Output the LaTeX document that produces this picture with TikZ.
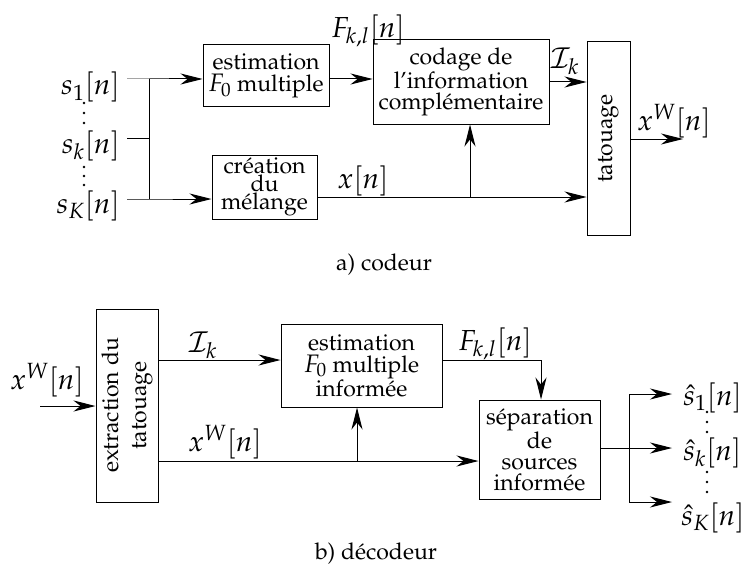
\documentclass[tikz,border=0pt]{standalone}
\usepackage[T1]{fontenc}
\usepackage{mathpazo}
\usetikzlibrary{arrows.meta}
\newcommand{\mlab}[1]{\scalebox{1.26}{$#1$}}
\newcommand{\mtxt}[1]{\scalebox{1.1}{$#1$}}
\tikzset{
  box/.style={draw, line width=1pt, inner sep=0pt, align=center},
  arr/.style={-{Stealth[length=22pt,width=11pt,inset=7pt]}, line width=1pt},
  ln/.style={line width=1pt},
  lab/.style={inner sep=0pt},
  captext/.style={inner sep=0pt},
  dot/.style={fill=black},
}
\begin{document}
\begin{tikzpicture}[x=1pt,y=-1pt, every node/.style={font=\fontsize{23}{22}\selectfont}]
\useasboundingbox (0,0) rectangle (743,575);
% ---------- a) codeur ----------
\node[box, minimum width=126pt, minimum height=62pt] (est) at (266,76) {estimation\\\mtxt{F_0} multiple};
\node[box, minimum width=105pt, minimum height=64pt, font=\fontsize{23}{14}\selectfont] (mel) at (264.5,187) {cr\'eation\\du\\m\'elange};
\node[box, minimum width=176pt, minimum height=84pt, font=\fontsize{23}{21}\selectfont] (cod) at (461,82) {codage de\\l'information\\compl\'ementaire};
\node[box, minimum width=43pt, minimum height=193pt] (tat) at (608.5,138.5) {};
\node[rotate=90, inner sep=0pt] (tatt) at (tat.center) {tatouage};

\node[lab, anchor=base east] (s1) at (120,95) {\mlab{s_1[n]}};
\node[lab, anchor=base east] (sk) at (120,153) {\mlab{s_k[n]}};
\node[lab, anchor=base east] (sK) at (120,213) {\mlab{s_K[n]}};
\fill[dot] (84,103) circle (1.3pt) (84,113) circle (1.3pt) (84,123) circle (1.3pt);
\fill[dot] (84,167) circle (1.3pt) (84,176) circle (1.3pt) (84,185) circle (1.3pt);

\coordinate (i1) at (127,79);
\coordinate (ik) at (127,138);
\coordinate (iK) at (127,199);
\coordinate (b1) at (149,79);
\coordinate (bK) at (149,199);
\draw[ln] (b1) -- (bK);
\draw[arr] (i1) -- (b1) -- (b1 -| est.west);
\draw[ln] (ik) -- (ik -| b1);
\draw[arr] (iK) -- (bK) -- (bK -| mel.west);
\draw[arr] (b1 -| est.east) -- (b1 -| cod.west);
\draw[arr] (cod.east) -- (cod.east -| tat.west);
\coordinate (xrow) at (0,197);
\draw[arr] (mel.east |- xrow) -- (tat.west |- xrow);
\coordinate (br) at (470,197);
\draw[arr] (br) -- (br |- cod.south);
\coordinate (xout) at (683,139);
\draw[arr] (tat.east |- xout) -- (xout);

\node[lab] (Fkl) at (368,31) {\mlab{F_{k,l}[n]}};
\node[lab] (Ik) at (565,61) {\mlab{\mathcal{I}_k}};
\node[lab] (xn) at (363,181) {\mlab{x[n]}};
\node[lab] (xW) at (674,121) {\mlab{x^W[n]}};
\node[captext] (capa) at (384,265) {a)~codeur};

% ---------- b) decodeur ----------
\node[box, minimum width=62pt, minimum height=193pt] (ext) at (127,405.5) {};
\node[rotate=90, align=center, inner sep=0pt, font=\fontsize{23}{28}\selectfont] (extt) at (ext.center) {extraction du\\tatouage};
\node[box, minimum width=161pt, minimum height=83pt] (est2) at (361.5,365.5) {estimation\\\mtxt{F_0} multiple\\inform\'ee};
\node[box, minimum width=121pt, minimum height=99pt, font=\fontsize{23}{21}\selectfont] (sep) at (539.5,449.5) {s\'eparation\\de\\sources\\inform\'ee};

\coordinate (xin) at (40,406);
\draw[arr] (xin) -- (xin -| ext.west);
\coordinate (irow) at (0,360);
\draw[arr] (ext.east |- irow) -- (est2.west |- irow);
\coordinate (xrow2) at (0,461);
\draw[arr] (ext.east |- xrow2) -- (sep.west |- xrow2);
\coordinate (br2) at (357,461);
\draw[arr] (br2) -- (br2 |- est2.south);
\coordinate (fk) at (541,360);
\draw[arr] (est2.east |- irow) -- (fk) -- (fk |- sep.north);
\coordinate (ob) at (629,448);
\coordinate (o1) at (629,394);
\coordinate (oK) at (629,502);
\coordinate (e1) at (672,394);
\coordinate (ek) at (672,448);
\coordinate (eK) at (672,502);
\draw[ln] (sep.east |- ob) -- (ob);
\draw[ln] (o1) -- (oK);
\draw[arr] (o1) -- (e1);
\draw[arr] (ob) -- (ek);
\draw[arr] (oK) -- (eK);

\node[lab, anchor=base west] (h1) at (683,405) {\mlab{\hat{s}_1[n]}};
\node[lab, anchor=base west] (hk) at (683,460) {\mlab{\hat{s}_k[n]}};
\node[lab, anchor=base west] (hK) at (681,525) {\mlab{\hat{s}_K[n]}};
\fill[dot] (707,412) circle (1.3pt) (707,422) circle (1.3pt) (707,432) circle (1.3pt);
\fill[dot] (707,472) circle (1.3pt) (707,482) circle (1.3pt) (707,492) circle (1.3pt);

\node[lab] (xWin) at (47,380) {\mlab{x^W[n]}};
\node[lab] (Ik2) at (203,345) {\mlab{\mathcal{I}_k}};
\node[lab] (xW2) at (225,442) {\mlab{x^W[n]}};
\node[lab] (Fkl2) at (495,344) {\mlab{F_{k,l}[n]}};
\node[captext] (capb) at (376,554) {b)~d\'ecodeur};
\end{tikzpicture}
\end{document}
